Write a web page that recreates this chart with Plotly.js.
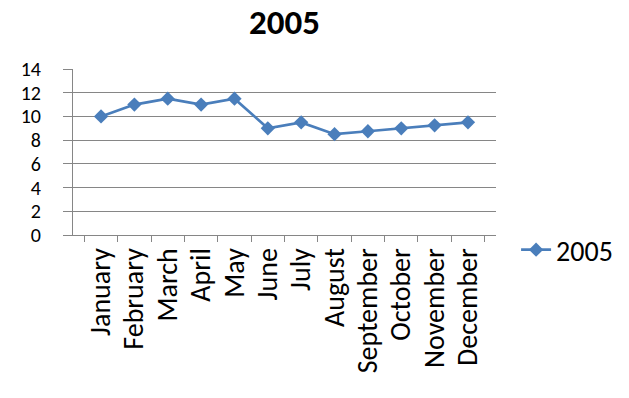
<!DOCTYPE html>
<html>
<head>
<meta charset="utf-8">
<script src="https://cdn.plot.ly/plotly-3.0.1.min.js"></script>
<style>html,body{margin:0;padding:0;background:#fff;}#chart{width:629px;height:398px;}</style>
</head>
<body>
<div id="chart"></div>
<script>
const months = ["January","February","March","April","May","June","July","August","September","October","November","December"];
const values2005 = [10, 11, 11.5, 11, 11.5, 9, 9.5, 8.5, 8.75, 9, 9.25, 9.5];
const seriesName = "2005";
const yTicks = [0, 2, 4, 6, 8, 10, 12, 14];

const font = "Carlito, 'Open Sans', 'Noto Sans', sans-serif";
const trace = {
  x: months, y: values2005, name: seriesName, type: "scatter", mode: "lines+markers",
  line: {color: "#4A7EBB", width: 2.75},
  marker: {symbol: "diamond", size: 11, color: "#4A7EBB"}
};
const layout = {
  width: 629, height: 398,
  margin: {l: 73, r: 132, t: 69, b: 163, pad: 0},
  paper_bgcolor: "#fff", plot_bgcolor: "#fff",
  font: {family: font, color: "#000"},
  title: {text: "<b>2005</b>", font: {size: 35, family: font, color: "#000"}, x: 0.5, xref: "paper", xanchor: "center", y: 0.945, yanchor: "middle"},
  showlegend: true,
  legend: {x: 1.045, xanchor: "left", y: -0.09, yanchor: "middle", font: {size: 28, family: font}, bgcolor: "rgba(0,0,0,0)", itemwidth: 30},
  xaxis: {
    type: "category", tickangle: -90, tickfont: {size: 28, family: font},
    tickmode: "array", tickvals: months, ticktext: months,
    showline: true, linecolor: "#868686", linewidth: 1, automargin: false,
    ticks: "outside", ticklen: 6, tickcolor: "#868686", tickson: "boundaries",
    showgrid: false, zeroline: false, fixedrange: true, ticklabelstandoff: 1
  },
  yaxis: {
    range: [0, 14], tickvals: yTicks, ticktext: yTicks.map(String),
    tickfont: {size: 20, family: font}, automargin: false,
    showline: true, linecolor: "#868686", linewidth: 1,
    ticks: "outside", ticklen: 9, tickcolor: "#868686", ticklabelstandoff: 18,
    showgrid: true, gridcolor: "#868686", gridwidth: 1, zeroline: false, fixedrange: true
  }
};
Plotly.newPlot("chart", [trace], layout, {displayModeBar: false, staticPlot: true});
</script>
</body>
</html>
